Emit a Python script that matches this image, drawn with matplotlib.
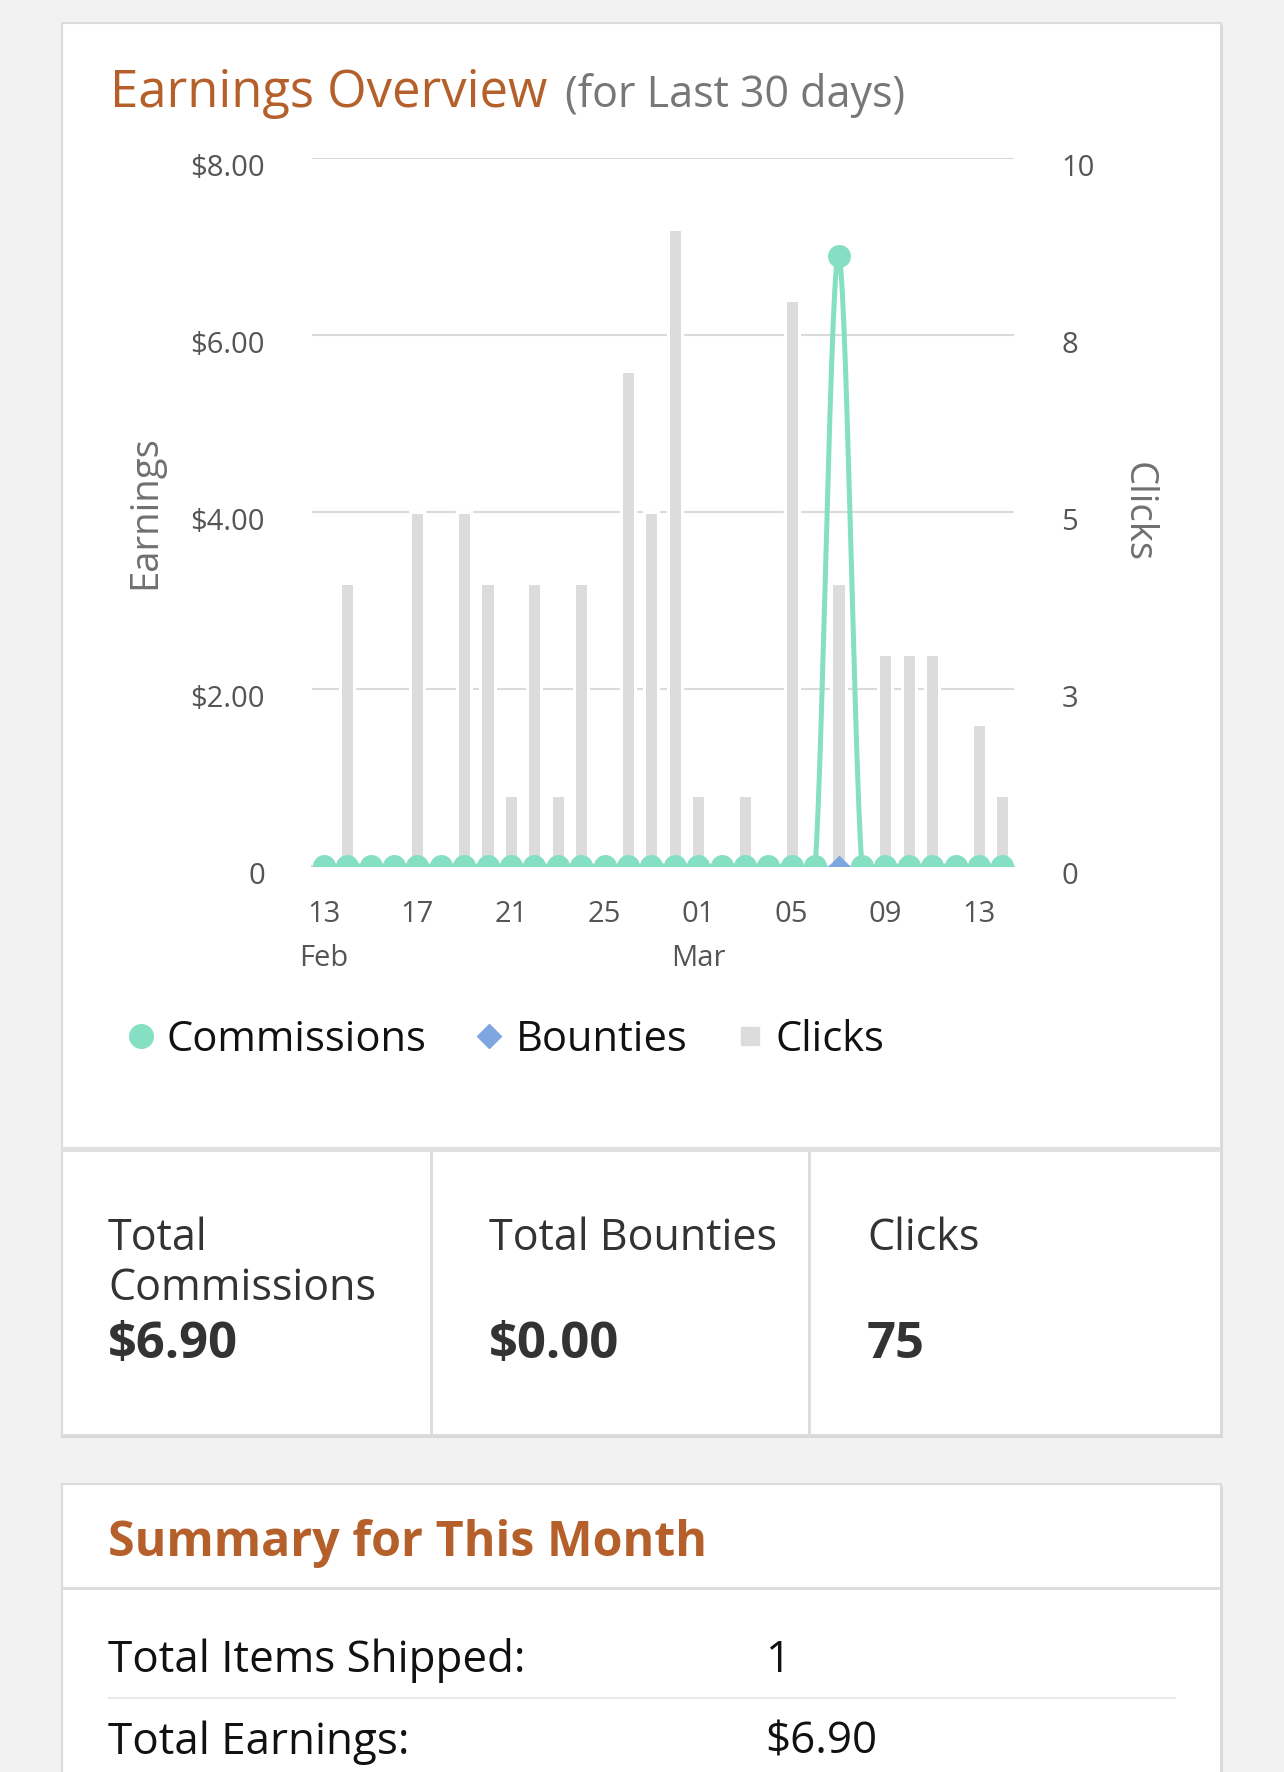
import matplotlib.pyplot as plt
import numpy as np
import pandas as pd
from matplotlib.patches import Rectangle
from matplotlib.lines import Line2D
from matplotlib.transforms import ScaledTranslation

plt.rcParams['font.family'] = ['Open Sans', 'DejaVu Sans']

# ---- data ----
days = pd.date_range('2019-02-13', '2019-03-14', freq='D')
clicks = [0, 4, 0, 0, 5, 0, 5, 4, 1, 4, 1, 4, 0, 7, 5,
          9, 1, 0, 1, 0, 8, 0, 4, 0, 3, 3, 3, 0, 2, 1]
commissions = [0, 0, 0, 0, 0, 0, 0, 0, 0, 0, 0, 0, 0, 0, 0,
               0, 0, 0, 0, 0, 0, 0, 6.90, 0, 0, 0, 0, 0, 0, 0]
bounties = [0, 0, 0, 0, 0, 0, 0, 0, 0, 0, 0, 0, 0, 0, 0,
            0, 0, 0, 0, 0, 0, 0, 0, 0, 0, 0, 0, 0, 0, 0]

earn_ticks = [0, 2, 4, 6, 8]
earn_labels = ['0', '$2.00', '$4.00', '$6.00', '$8.00']
click_ticks = [0, 2.5, 5, 7.5, 10]
click_labels = ['0', '3', '5', '8', '10']

items_shipped = 1
total_earnings = 6.90

GREEN = '#84dfc3'
BLUE = '#7ea7e2'
BAR = '#dcdcdc'
ORANGE = '#b5602b'

W, H = 1284, 1772
fig = plt.figure(figsize=(W / 100, H / 100), dpi=100, facecolor='#f2f2f2')


def fx(x):
    return x / W


def fy(y):
    return 1 - y / H


def box(x0, y0, x1, y1, **kw):
    r = Rectangle((fx(x0), fy(y1)), fx(x1) - fx(x0), fy(y0) - fy(y1),
                  transform=fig.transFigure, **kw)
    fig.add_artist(r)


# cards
box(61, 25, 1223, 1438, fc='#d8d8d8', ec='none', zorder=-3)
box(62, 23, 1221, 1435, fc='white', ec='#dcdcdc', lw=1.5, zorder=-2)
box(62, 1147, 1221, 1152, fc='#e0e0e0', ec='none', zorder=-1)
box(429.5, 1152, 432.5, 1435, fc='#dddddd', ec='none', zorder=-1)
box(808.5, 1152, 811.5, 1435, fc='#dddddd', ec='none', zorder=-1)
box(61, 1486, 1223, 1800, fc='#d8d8d8', ec='none', zorder=-3)
box(62, 1484, 1221, 1800, fc='white', ec='#dcdcdc', lw=1.5, zorder=-2)
box(62, 1587, 1221, 1590, fc='#dddddd', ec='none', zorder=-1)
box(108, 1697, 1176, 1699, fc='#e8e8e8', ec='none', zorder=-1)

# ---- chart ----
x = np.arange(len(days))
ax = fig.add_axes([fx(312), fy(866), (1014 - 312) / W, (866 - 158.3) / H])
ax.patch.set_visible(False)
ax2 = ax.twinx()

ax.bar(x, clicks, width=0.6, color=BAR, edgecolor='white', linewidth=2.2, zorder=2)
ax.set_xlim(-0.5, len(days) - 0.5)
ax.set_ylim(0, 10)
ax.set_yticks(click_ticks, click_labels)
ax.yaxis.tick_right()
ax.grid(axis='y', color='#dadada', lw=1.5)
ax.set_axisbelow(True)
for s in ['top', 'left', 'right']:
    ax.spines[s].set_visible(False)
ax.spines['bottom'].set_color('#ccd6eb')
ax.spines['bottom'].set_linewidth(1.5)

xt = x[::4]
xlabels = []
for i in xt:
    d = days[i]
    lab = d.strftime('%d')
    if i == 0 or d.day == 1:
        lab += '\n' + d.strftime('%b')
    xlabels.append(lab)
ax.set_xticks(xt, xlabels)
ax.tick_params(axis='both', length=0, labelsize=21, labelcolor='#555555')
ax.tick_params(axis='x', pad=24.5)
ax.tick_params(axis='y', pad=34)
for lbl in ax.get_xticklabels():
    lbl.set_linespacing(1.68)


def smooth(xs, ys, n=30):
    xs = np.asarray(xs, float)
    ys = np.asarray(ys, float)
    m = np.gradient(ys)
    t = np.linspace(0, 1, n, endpoint=False)
    h00 = 2 * t**3 - 3 * t**2 + 1
    h10 = t**3 - 2 * t**2 + t
    h01 = -2 * t**3 + 3 * t**2
    h11 = t**3 - t**2
    px, py = [], []
    for i in range(len(xs) - 1):
        px.append(xs[i] + t * (xs[i + 1] - xs[i]))
        py.append(h00 * ys[i] + h10 * m[i] + h01 * ys[i + 1] + h11 * m[i + 1])
    px.append([xs[-1]])
    py.append([ys[-1]])
    return np.concatenate(px), np.concatenate(py)


sx, sy = smooth(x, commissions)
ax2.plot(sx, sy, color=GREEN, lw=3.6, zorder=3, solid_capstyle='round')
ax2.plot(x, bounties, 'D', ms=10.5, color=BLUE, zorder=4)
ax2.plot(x, commissions, 'o', ms=15.5, color=GREEN, zorder=5)
ax2.set_ylim(0, 8)
ax2.set_yticks(earn_ticks, earn_labels)
ax2.yaxis.tick_left()
for s in ['top', 'left', 'right', 'bottom']:
    ax2.spines[s].set_visible(False)
ax2.tick_params(axis='y', length=0, labelsize=21, labelcolor='#555555', pad=34)

off = ScaledTranslation(0, -5 / 72, fig.dpi_scale_trans)
for lbl in ax.get_yticklabels() + ax2.get_yticklabels():
    lbl.set_transform(lbl.get_transform() + off)

fig.text(fx(145), fy(512), 'Earnings', rotation=90, ha='center', va='center',
         fontsize=27.5, color='#707070')
fig.text(fx(1138), fy(512), 'Clicks', rotation=270, ha='center', va='center',
         fontsize=27.5, color='#707070')

# title
fig.text(fx(110), fy(106.7), 'Earnings Overview', color=ORANGE, fontsize=36.5, va='baseline')
fig.text(fx(565), fy(106.7), '(for Last 30 days)', color='#777777', fontsize=31, va='baseline')

# legend
handles = [
    Line2D([], [], marker='o', ls='none', color=GREEN, ms=17),
    Line2D([], [], marker='D', ls='none', color=BLUE, ms=12),
    Line2D([], [], marker='s', ls='none', color=BAR, ms=13),
]
fig.legend(handles, ['Commissions', 'Bounties', 'Clicks'], loc='center left',
           bbox_to_anchor=(fx(128), fy(1040)), ncol=3, frameon=False, fontsize=30,
           handlelength=0.6, handletextpad=0.33, columnspacing=1.2,
           borderpad=0, borderaxespad=0, labelcolor='#111111')

# totals row
fig.text(fx(108), fy(1250), 'Total', fontsize=31, color='#333333', va='baseline')
fig.text(fx(108), fy(1300), 'Commissions', fontsize=31, color='#333333', va='baseline')
fig.text(fx(108), fy(1358), f'${sum(commissions):.2f}', fontsize=36.5, fontweight='bold',
         color='#333333', va='baseline')
fig.text(fx(489), fy(1250), 'Total Bounties', fontsize=31, color='#333333', va='baseline')
fig.text(fx(489), fy(1358), f'${sum(bounties):.2f}', fontsize=36.5, fontweight='bold',
         color='#333333', va='baseline')
fig.text(fx(867), fy(1250), 'Clicks', fontsize=31, color='#333333', va='baseline')
fig.text(fx(867), fy(1358), f'{sum(clicks)}', fontsize=36.5, fontweight='bold',
         color='#333333', va='baseline')

# summary card
fig.text(fx(108), fy(1556), 'Summary for This Month', fontsize=34.8, fontweight='bold',
         color=ORANGE, va='baseline')
fig.text(fx(108), fy(1672), 'Total Items Shipped:', fontsize=31.6, color='#111111', va='baseline')
fig.text(fx(765), fy(1672), f'{items_shipped}', fontsize=31.6, color='#111111', va='baseline')
fig.text(fx(108), fy(1754), 'Total Earnings:', fontsize=31.6, color='#111111', va='baseline')
fig.text(fx(765), fy(1754), f'${total_earnings:.2f}', fontsize=31.6, color='#111111', va='baseline')

fig.savefig('out.png', dpi=100, facecolor=fig.get_facecolor())
